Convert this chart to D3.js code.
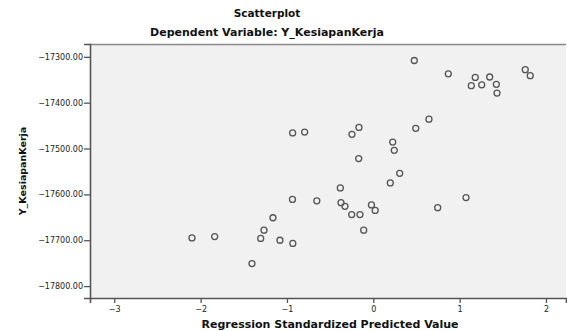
<!DOCTYPE html>
<html>
<head>
<meta charset="utf-8">
<script src="https://cdn.jsdelivr.net/npm/d3@7"></script>
<style>
  body { margin: 0; background: #fff; }
  svg { display: block; font-family: "DejaVu Sans", Arial, sans-serif; }
</style>
</head>
<body>
<div id="scatter"></div>
<script>
const predicted = [
  -2.10, -1.837, -1.405, -1.304, -1.266, -1.162, -1.081, -0.932, -0.936, -0.654,
  -0.934, -0.795, -0.382, -0.374, -0.328, -0.250, -0.154, -0.247, -0.166, -0.169,
  -0.111, -0.021, 0.022, 0.197, 0.225, 0.243, 0.306, 0.475, 0.492, 0.645,
  0.746, 0.869, 1.074, 1.135, 1.181, 1.256, 1.348, 1.425, 1.433, 1.760, 1.818
];
const observed = [
  -17695, -17692, -17751, -17696, -17678, -17651, -17700, -17707, -17611, -17614,
  -17466, -17464, -17586, -17618, -17626, -17644, -17644, -17469, -17454, -17522,
  -17678, -17623, -17635, -17575, -17486, -17504, -17554, -17308, -17456, -17436,
  -17629, -17337, -17607, -17363, -17345, -17361, -17344, -17360, -17379, -17328, -17341
];
const xTicks = [-3, -2, -1, 0, 1, 2];
const yTicks = [-17300, -17400, -17500, -17600, -17700, -17800];

const width = 567, height = 331;
const margin = { top: 44, right: 1, bottom: 33, left: 90 };
const innerW = width - margin.left - margin.right;
const innerH = height - margin.top - margin.bottom;

const svg = d3.select("#scatter")
  .append("svg")
  .attr("width", width)
  .attr("height", height);

// titles
svg.append("text")
  .attr("x", 267).attr("y", 17)
  .attr("text-anchor", "middle")
  .attr("font-size", 10.5).attr("font-weight", "bold")
  .attr("fill", "#111")
  .text("Scatterplot");
svg.append("text")
  .attr("x", 267).attr("y", 36)
  .attr("text-anchor", "middle")
  .attr("font-size", 11).attr("font-weight", "bold")
  .attr("fill", "#111")
  .text("Dependent Variable: Y_KesiapanKerja");

const g = svg.append("g")
  .attr("transform", "translate(" + margin.left + "," + margin.top + ")");

const x = d3.scaleLinear()
  .domain([-3.281, 2.232])
  .range([0, innerW]);

const y = d3.scaleLinear()
  .domain([-17826, -17272])
  .range([innerH, 0]);

// plot background
g.append("rect")
  .attr("width", innerW)
  .attr("height", innerH)
  .attr("fill", "#f1f1f1");

// top border
g.append("line")
  .attr("x1", 0).attr("x2", innerW)
  .attr("y1", 0.5).attr("y2", 0.5)
  .attr("stroke", "#888").attr("stroke-width", 1.5);

// axes
const xAxis = g.append("g")
  .attr("transform", "translate(0," + innerH + ")")
  .call(d3.axisBottom(x).tickValues(xTicks).tickSize(5).tickPadding(3).tickFormat(d3.format("d")));

const yAxis = g.append("g")
  .call(d3.axisLeft(y).tickValues(yTicks).tickSize(6).tickPadding(1).tickFormat(d3.format(".2f")));

[xAxis, yAxis].forEach(a => {
  a.select(".domain").attr("stroke", "#555").attr("stroke-width", 1.6);
  a.selectAll(".tick line").attr("stroke", "#555").attr("stroke-width", 1.3);
  a.selectAll("text").attr("fill", "#222").attr("font-size", 8)
    .attr("font-family", "'DejaVu Sans', Arial, sans-serif");
});

// points
g.selectAll("circle.pt")
  .data(predicted.map((p, i) => ({ p: p, o: observed[i] })))
  .enter()
  .append("circle")
  .attr("class", "pt")
  .attr("cx", d => x(d.p))
  .attr("cy", d => y(d.o))
  .attr("r", 3)
  .attr("fill", "none")
  .attr("stroke", "#555")
  .attr("stroke-width", 1.3);

// axis titles
svg.append("text")
  .attr("x", 330).attr("y", 328)
  .attr("text-anchor", "middle")
  .attr("font-size", 11).attr("font-weight", "bold")
  .attr("fill", "#111")
  .text("Regression Standardized Predicted Value");

svg.append("text")
  .attr("transform", "translate(26," + (margin.top + innerH / 2) + ") rotate(-90)")
  .attr("text-anchor", "middle")
  .attr("font-size", 9.5).attr("font-weight", "bold")
  .attr("fill", "#111")
  .text("Y_KesiapanKerja");
</script>
</body>
</html>
